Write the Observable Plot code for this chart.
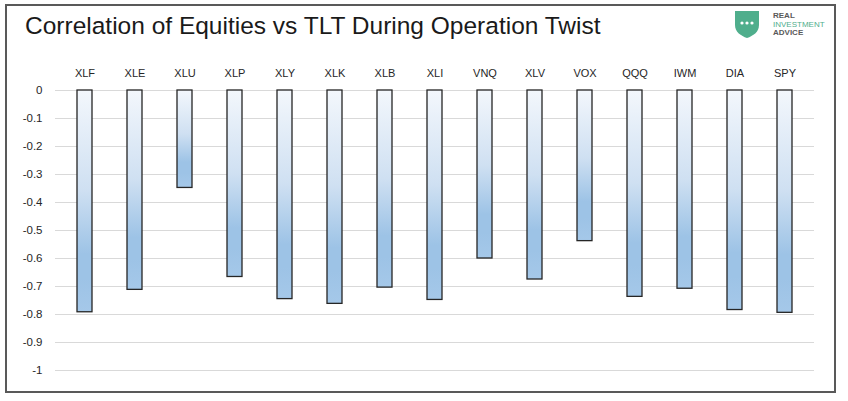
<!DOCTYPE html>
<html>
<head>
<meta charset="utf-8">
<script src="https://cdn.jsdelivr.net/npm/d3@7"></script>
<script src="https://cdn.jsdelivr.net/npm/@observablehq/plot@0.6"></script>
<style>
  html, body { margin: 0; padding: 0; background: #fff; }
  #wrap { position: relative; width: 848px; height: 401px; overflow: hidden; background: #fff; }
  #frame { position: absolute; left: 5px; top: 4px; width: 827px; height: 385px; border: 2px solid #595959; }
  #title { position: absolute; left: 25px; top: 12px; font-family: "Liberation Sans", Arial, sans-serif; font-size: 24.5px; color: #1a1a1a; white-space: nowrap; }
  #logo { position: absolute; left: 733px; top: 9px; }
  #chart { position: absolute; left: 0; top: 0; }
</style>
</head>
<body>
<div id="wrap">
  <div id="frame"></div>
  <div id="chart"></div>
  <div id="title">Correlation of Equities vs TLT During Operation Twist</div>
  <svg id="logo" width="95" height="30" viewBox="0 0 95 30">
    <path d="M2,2 H26 V16 C26,23 20,27 14,29 C8,27 2,23 2,16 Z" fill="#4fae8c"/>
    <circle cx="9" cy="14" r="1.6" fill="#fff"/>
    <circle cx="14" cy="14" r="1.6" fill="#fff"/>
    <circle cx="19" cy="14" r="1.6" fill="#fff"/>
    <text x="40" y="9" font-family="Liberation Sans, Arial, sans-serif" font-size="8" font-weight="bold" fill="#595959">REAL</text>
    <text x="40" y="17.5" font-family="Liberation Sans, Arial, sans-serif" font-size="8" fill="#4fae8c">INVESTMENT</text>
    <text x="40" y="26" font-family="Liberation Sans, Arial, sans-serif" font-size="8" font-weight="bold" fill="#595959">ADVICE</text>
  </svg>
</div>
<script>
const tickers = ["XLF","XLE","XLU","XLP","XLY","XLK","XLB","XLI","VNQ","XLV","VOX","QQQ","IWM","DIA","SPY"];
const correlations = [-0.792,-0.712,-0.348,-0.666,-0.745,-0.762,-0.704,-0.748,-0.600,-0.675,-0.538,-0.737,-0.708,-0.784,-0.794];
const yTicks = [0,-0.1,-0.2,-0.3,-0.4,-0.5,-0.6,-0.7,-0.8,-0.9,-1];

const data = tickers.map((t, i) => ({ticker: t, value: correlations[i]}));
const fmt = d => d === 0 ? "0" : String(+d.toFixed(1));

const chart = Plot.plot({
  width: 848,
  height: 401,
  marginTop: 90,
  marginBottom: 31,
  marginLeft: 55,
  marginRight: 34,
  style: {background: "transparent", fontFamily: "'Liberation Sans Narrow', 'Arial Narrow', 'Liberation Sans', sans-serif", fontSize: "11px", color: "#262626"},
  x: {domain: tickers, paddingInner: 0.70, paddingOuter: 0.35, axis: null, label: null},
  y: {domain: [-1, 0], axis: null, label: null},
  marks: [
    Plot.ruleY(yTicks, {stroke: "#d9d9d9", strokeWidth: 1}),
    Plot.barY(data, {x: "ticker", y1: 0, y2: "value", fill: "url(#barGrad)", stroke: "#262626", strokeWidth: 1.3}),
    Plot.axisX({anchor: "top", label: null, tickSize: 0, tickPadding: 14, fontSize: 11, fill: "#262626"}),
    Plot.axisY({ticks: yTicks, label: null, tickFormat: fmt, tickSize: 0, tickPadding: 13, fontSize: 11.5, fill: "#262626"})
  ]
});

const svg = d3.select(chart);
const defs = svg.insert("defs", ":first-child");
const grad = defs.append("linearGradient").attr("id", "barGrad").attr("x1", 0).attr("y1", 0).attr("x2", 0).attr("y2", 1);
[[0, "#f3f7fc"], [0.45, "#cfe0f2"], [0.74, "#9dc3e6"], [0.85, "#9dc3e6"], [1, "#a5c8e9"]].forEach(([o, c]) =>
  grad.append("stop").attr("offset", o).attr("stop-color", c));

document.getElementById("chart").appendChild(chart);
</script>
</body>
</html>
